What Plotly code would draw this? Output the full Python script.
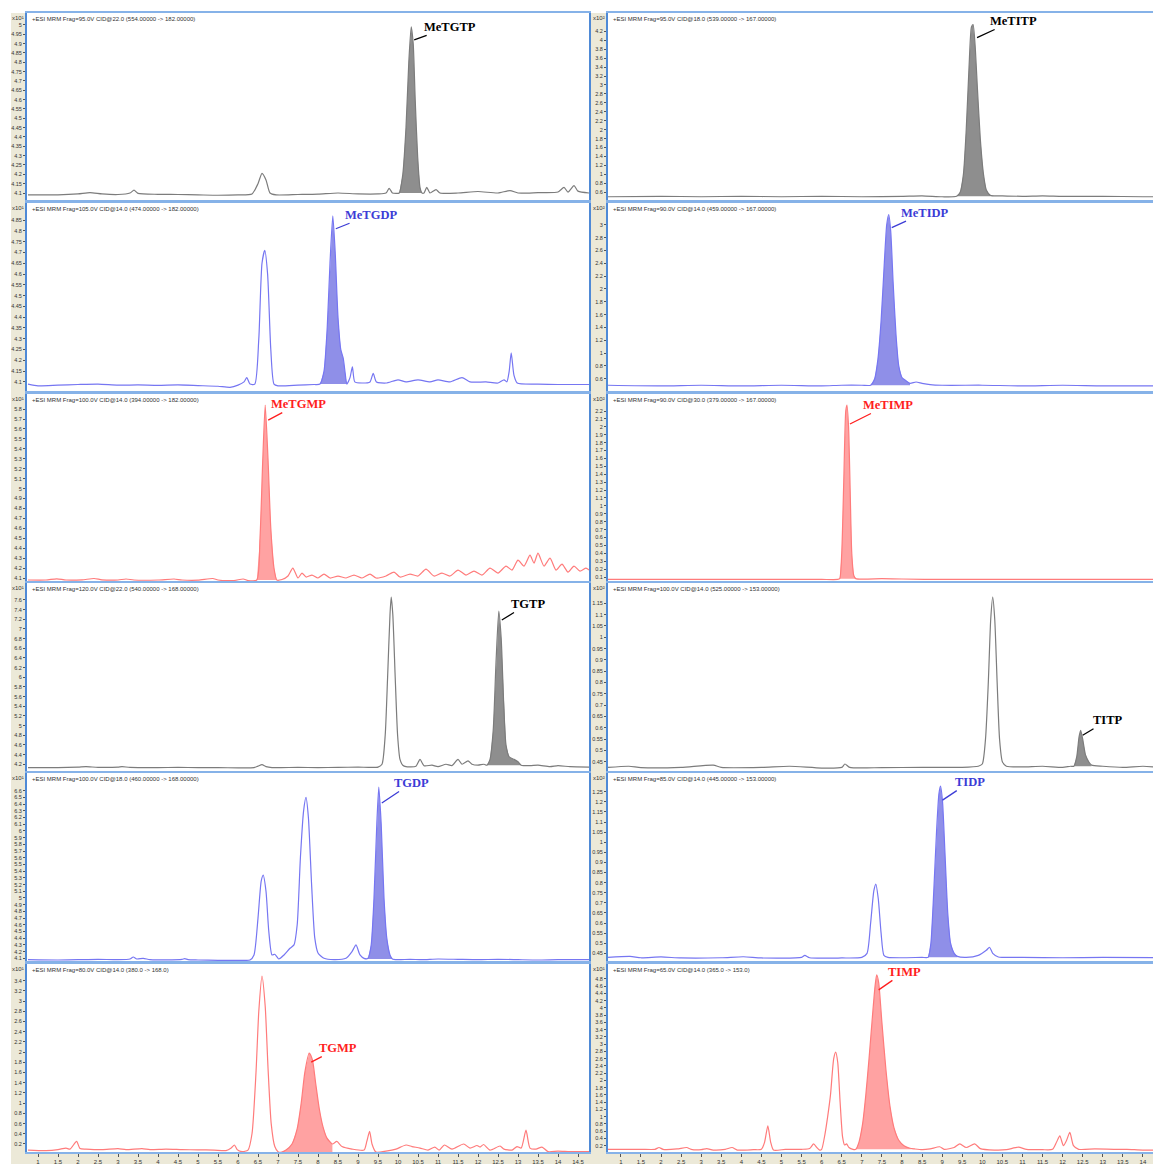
import plotly.graph_objects as go

# ---------------- data: (retention time [min], counts) ----------------
L1 = [(0.75,4.09),(1.5,4.09),(2.0,4.095),(2.3,4.102),(2.6,4.095),(3.0,4.092),(3.3,4.1),(3.4,4.115),(3.5,4.098),
      (4.0,4.093),(4.5,4.092),(5.0,4.09),(5.5,4.088),(6.0,4.09),(6.35,4.095),(6.5,4.15),(6.6,4.205),(6.7,4.17),
      (6.8,4.1),(6.95,4.09),(7.5,4.092),(8.0,4.094),(8.5,4.1),(9.0,4.095),(9.5,4.095),(9.7,4.1),(9.78,4.125),
      (9.86,4.1),(9.95,4.098),(10.03,4.1),(10.12,4.2),(10.2,4.45),(10.27,4.8),(10.33,4.99),(10.38,4.9),(10.43,4.6),
      (10.49,4.3),(10.55,4.13),(10.6,4.1),(10.65,4.1),(10.72,4.13),(10.8,4.1),(10.95,4.118),(11.05,4.1),(11.5,4.1),
      (12.0,4.108),(12.5,4.1),(12.8,4.113),(13.0,4.1),(13.5,4.102),(14.0,4.105),(14.15,4.13),(14.25,4.105),
      (14.4,4.14),(14.5,4.11),(14.78,4.1)]
L1_FILL = (10.03, 10.6)

L2 = [(0.75,4.09),(1.0,4.082),(1.5,4.085),(2.0,4.088),(2.5,4.09),(3.0,4.085),(3.5,4.086),(4.0,4.084),(4.5,4.086),
      (5.0,4.083),(5.5,4.08),(5.8,4.075),(6.0,4.085),(6.15,4.1),(6.22,4.12),(6.3,4.09),(6.42,4.09),(6.52,4.3),
      (6.6,4.65),(6.67,4.71),(6.74,4.6),(6.82,4.25),(6.9,4.09),(7.0,4.082),(7.5,4.085),(7.9,4.088),(8.05,4.09),
      (8.15,4.15),(8.23,4.35),(8.3,4.65),(8.37,4.87),(8.43,4.7),(8.5,4.4),(8.57,4.25),(8.63,4.21),(8.68,4.14),
      (8.72,4.09),(8.8,4.12),(8.86,4.17),(8.92,4.1),(9.1,4.095),(9.3,4.1),(9.38,4.14),(9.46,4.1),(9.7,4.095),
      (10.0,4.11),(10.2,4.1),(10.5,4.11),(10.8,4.1),(11.0,4.11),(11.3,4.1),(11.6,4.12),(11.8,4.1),(12.2,4.1),
      (12.5,4.095),(12.65,4.11),(12.72,4.1),(12.78,4.15),(12.83,4.235),(12.9,4.13),(12.98,4.095),(13.5,4.09),
      (14.0,4.088),(14.78,4.088)]
L2_FILL = (8.05, 8.72)

L3 = [(0.75,4.08),(1.2,4.08),(1.47,4.092),(1.7,4.08),(2.1,4.082),(2.4,4.095),(2.6,4.082),(3.0,4.08),(3.2,4.09),
      (3.4,4.08),(4.0,4.08),(4.4,4.09),(4.6,4.08),(5.0,4.078),(5.37,4.095),(5.5,4.08),(5.9,4.075),(6.13,4.09),
      (6.25,4.075),(6.47,4.08),(6.55,4.5),(6.62,5.3),(6.68,5.84),(6.75,5.3),(6.82,4.6),(6.9,4.2),(6.97,4.08),
      (7.1,4.085),(7.25,4.12),(7.37,4.2),(7.5,4.1),(7.6,4.15),(7.7,4.11),(7.85,4.13),(8.0,4.1),(8.15,4.14),
      (8.3,4.1),(8.5,4.12),(8.7,4.1),(8.9,4.13),(9.1,4.1),(9.3,4.14),(9.45,4.1),(9.7,4.12),(9.9,4.16),(10.05,4.11),
      (10.3,4.14),(10.5,4.12),(10.7,4.19),(10.9,4.12),(11.1,4.15),(11.3,4.12),(11.5,4.18),(11.7,4.13),(11.9,4.17),
      (12.1,4.13),(12.3,4.2),(12.5,4.15),(12.7,4.22),(12.85,4.18),(13.0,4.28),(13.15,4.22),(13.3,4.33),(13.4,4.25),
      (13.5,4.35),(13.65,4.22),(13.8,4.3),(13.95,4.18),(14.1,4.24),(14.25,4.16),(14.4,4.22),(14.55,4.17),
      (14.7,4.2),(14.78,4.18)]
L3_FILL = (6.47, 6.97)

L4 = [(0.75,4.13),(1.5,4.13),(2.0,4.14),(2.2,4.15),(2.5,4.135),(3.0,4.14),(3.1,4.15),(3.3,4.135),(4.0,4.13),
      (4.5,4.135),(5.0,4.13),(5.5,4.13),(6.0,4.125),(6.4,4.13),(6.5,4.16),(6.6,4.19),(6.7,4.15),(6.85,4.13),
      (7.5,4.135),(8.0,4.13),(8.5,4.135),(9.0,4.14),(9.5,4.14),(9.6,4.2),(9.68,4.8),(9.74,6.0),(9.8,7.3),
      (9.83,7.66),(9.87,7.3),(9.93,6.0),(9.99,4.8),(10.05,4.3),(10.12,4.18),(10.2,4.15),(10.45,4.16),(10.55,4.3),
      (10.65,4.17),(10.85,4.18),(11.0,4.15),(11.2,4.2),(11.35,4.17),(11.5,4.3),(11.6,4.2),(11.75,4.27),(11.85,4.2),
      (12.0,4.18),(12.15,4.2),(12.22,4.18),(12.3,4.3),(12.38,4.9),(12.45,6.3),(12.52,7.37),(12.58,6.8),
      (12.64,5.5),(12.7,4.6),(12.78,4.35),(12.9,4.3),(13.0,4.25),(13.08,4.18),(13.3,4.17),(13.5,4.18),
      (13.8,4.15),(14.0,4.17),(14.3,4.15),(14.78,4.14)]
L4_FILL = (12.22, 13.08)

L5 = [(0.75,4.08),(1.5,4.075),(2.0,4.08),(2.5,4.085),(3.0,4.08),(3.3,4.09),(3.38,4.12),(3.47,4.09),(3.63,4.1),
      (3.8,4.08),(4.2,4.078),(4.6,4.085),(4.67,4.095),(4.75,4.08),(5.0,4.075),(5.5,4.07),(6.0,4.07),(6.3,4.075),
      (6.4,4.15),(6.5,4.7),(6.58,5.25),(6.63,5.34),(6.7,5.1),(6.77,4.5),(6.85,4.15),(6.92,4.16),(7.02,4.09),
      (7.15,4.15),(7.3,4.25),(7.4,4.3),(7.48,4.6),(7.56,5.6),(7.64,6.3),(7.7,6.5),(7.76,6.2),(7.84,5.2),
      (7.92,4.4),(8.0,4.18),(8.15,4.1),(8.4,4.08),(8.7,4.1),(8.85,4.2),(8.95,4.3),(9.05,4.15),(9.15,4.1),
      (9.25,4.1),(9.33,4.3),(9.4,5.0),(9.47,6.1),(9.52,6.655),(9.58,6.1),(9.65,5.0),(9.72,4.4),(9.8,4.15),
      (9.86,4.09),(10.0,4.08),(10.3,4.085),(10.6,4.08),(11.0,4.09),(11.5,4.085),(12.0,4.08),(12.5,4.085),
      (13.0,4.08),(13.5,4.075),(14.0,4.08),(14.78,4.08)]
L5_FILL = (9.25, 9.86)

L6 = [(0.75,0.08),(1.2,0.07),(1.5,0.09),(1.7,0.12),(1.8,0.1),(1.965,0.25),(2.05,0.11),(2.2,0.1),(2.6,0.09),
      (3.0,0.11),(3.2,0.09),(3.6,0.11),(3.8,0.09),(4.2,0.1),(4.6,0.09),(5.0,0.085),(5.4,0.08),(5.7,0.07),
      (5.83,0.12),(5.91,0.18),(5.98,0.09),(6.1,0.05),(6.25,0.08),(6.35,0.4),(6.45,1.6),(6.52,2.8),(6.6,3.49),
      (6.68,2.9),(6.75,1.7),(6.83,0.6),(6.92,0.15),(7.0,0.05),(7.09,0.04),(7.2,0.08),(7.35,0.2),(7.48,0.5),
      (7.58,1.0),(7.67,1.6),(7.78,1.98),(7.86,1.85),(7.94,1.4),(8.03,0.9),(8.12,0.55),(8.22,0.32),(8.36,0.2),
      (8.47,0.25),(8.6,0.15),(8.85,0.1),(9.15,0.08),(9.22,0.25),(9.29,0.45),(9.35,0.2),(9.45,0.04),(9.7,0.06),
      (9.95,0.1),(10.2,0.18),(10.35,0.15),(10.55,0.12),(10.75,0.08),(10.92,0.14),(11.03,0.08),(11.16,0.18),
      (11.35,0.1),(11.64,0.2),(11.8,0.12),(11.975,0.17),(12.05,0.14),(12.14,0.19),(12.3,0.08),(12.55,0.16),
      (12.65,0.1),(12.85,0.08),(12.975,0.15),(13.08,0.12),(13.2,0.47),(13.3,0.12),(13.45,0.1),(13.6,0.14),
      (13.75,0.05),(14.0,0.06),(14.3,0.05),(14.78,0.05)]
L6_FILL = (7.09, 8.36)

R1 = [(0.68,0.5),(2.0,0.51),(3.0,0.5),(4.0,0.51),(5.0,0.5),(6.0,0.51),(7.0,0.5),(8.0,0.51),(8.5,0.52),(9.0,0.5),
      (9.36,0.51),(9.45,0.6),(9.53,1.0),(9.6,2.0),(9.67,3.4),(9.73,4.3),(9.77,4.35),(9.82,3.9),(9.88,2.9),
      (9.95,1.8),(10.03,1.0),(10.1,0.65),(10.2,0.53),(10.5,0.52),(11.0,0.51),(11.5,0.52),(12.0,0.51),
      (13.0,0.51),(14.0,0.5),(14.45,0.5)]
R1_FILL = (9.36, 10.2)

R2 = [(0.68,0.5),(2.0,0.49),(3.0,0.5),(4.0,0.49),(5.0,0.5),(6.0,0.49),(6.5,0.5),(7.0,0.5),(7.22,0.5),(7.32,0.6),
      (7.4,0.9),(7.48,1.5),(7.56,2.4),(7.62,3.0),(7.67,3.16),(7.72,2.9),(7.78,2.1),(7.85,1.3),(7.92,0.8),
      (8.0,0.62),(8.1,0.57),(8.2,0.53),(8.35,0.55),(8.5,0.53),(8.7,0.51),(9.0,0.5),(10.0,0.5),(11.0,0.49),
      (12.0,0.5),(13.0,0.49),(14.45,0.49)]
R2_FILL = (7.22, 8.2)

R3 = [(0.68,0.07),(3.0,0.07),(5.0,0.07),(6.0,0.07),(6.4,0.07),(6.45,0.08),(6.5,0.4),(6.55,1.3),(6.6,2.2),
      (6.63,2.276),(6.67,2.0),(6.71,1.2),(6.75,0.4),(6.8,0.12),(6.85,0.08),(7.5,0.08),(8.0,0.075),(9.0,0.07),
      (14.45,0.07)]
R3_FILL = (6.45, 6.85)

R4 = [(0.68,0.425),(1.2,0.43),(1.5,0.424),(2.5,0.425),(3.3,0.435),(3.5,0.425),(4.5,0.425),(5.2,0.43),(6.0,0.422),
      (6.5,0.425),(6.58,0.44),(6.7,0.425),(7.5,0.424),(8.5,0.425),(9.5,0.425),(9.9,0.43),(10.0,0.44),
      (10.08,0.55),(10.15,0.8),(10.21,1.08),(10.26,1.178),(10.31,1.08),(10.37,0.8),(10.43,0.55),(10.5,0.45),
      (10.6,0.43),(11.0,0.427),(11.5,0.43),(12.0,0.425),(12.2,0.43),(12.28,0.43),(12.35,0.47),(12.41,0.56),
      (12.45,0.589),(12.5,0.55),(12.57,0.48),(12.65,0.45),(12.72,0.435),(13.0,0.43),(13.5,0.425),(14.0,0.43),
      (14.45,0.425)]
R4_FILL = (12.28, 12.72)

R5 = [(0.68,0.43),(1.23,0.435),(1.5,0.428),(2.0,0.432),(2.5,0.427),(3.5,0.428),(4.05,0.433),(4.5,0.427),
      (5.5,0.43),(5.58,0.44),(5.7,0.428),(6.5,0.427),(7.0,0.43),(7.13,0.45),(7.22,0.6),(7.3,0.76),(7.35,0.793),
      (7.41,0.72),(7.48,0.55),(7.55,0.44),(7.65,0.43),(8.0,0.428),(8.5,0.43),(8.65,0.43),(8.72,0.5),(8.79,0.75),
      (8.86,1.05),(8.92,1.24),(8.96,1.278),(9.01,1.2),(9.07,0.95),(9.14,0.65),(9.21,0.5),(9.3,0.45),(9.38,0.435),
      (9.6,0.43),(9.9,0.44),(10.1,0.465),(10.18,0.48),(10.26,0.45),(10.4,0.432),(11.0,0.43),(12.0,0.428),
      (13.0,0.43),(14.45,0.428)]
R5_FILL = (8.65, 9.38)

R6 = [(0.68,0.1),(1.5,0.1),(1.85,0.1),(1.95,0.15),(2.05,0.1),(2.4,0.11),(2.64,0.15),(2.75,0.1),(3.0,0.09),
      (3.14,0.12),(3.3,0.08),(3.6,0.1),(3.77,0.15),(3.9,0.08),(4.3,0.09),(4.5,0.1),(4.58,0.3),(4.66,0.75),
      (4.73,0.3),(4.8,0.08),(5.1,0.1),(5.5,0.1),(5.7,0.12),(5.8,0.25),(5.88,0.15),(5.95,0.08),(6.0,0.1),
      (6.08,0.5),(6.15,1.0),(6.22,1.6),(6.3,2.6),(6.35,2.78),(6.4,2.5),(6.46,1.4),(6.52,0.45),(6.57,0.22),
      (6.62,0.25),(6.68,0.15),(6.78,0.1),(6.85,0.1),(6.93,0.3),(7.02,0.8),(7.1,1.6),(7.18,2.6),(7.26,3.7),
      (7.33,4.6),(7.37,4.91),(7.42,4.7),(7.5,3.6),(7.6,2.3),(7.7,1.3),(7.8,0.7),(7.92,0.35),(8.05,0.2),
      (8.2,0.13),(8.32,0.11),(8.5,0.09),(8.7,0.11),(8.94,0.17),(9.05,0.1),(9.3,0.15),(9.44,0.25),(9.6,0.15),
      (9.81,0.25),(9.95,0.12),(10.3,0.08),(10.6,0.09),(10.9,0.16),(11.1,0.1),(11.5,0.09),(11.75,0.1),
      (11.85,0.3),(11.93,0.47),(12.02,0.2),(12.1,0.35),(12.18,0.57),(12.27,0.2),(12.4,0.1),(12.8,0.11),
      (13.3,0.1),(13.6,0.1),(14.0,0.08),(14.45,0.08)]
R6_FILL = (6.85, 8.32)

# y tick labels of each panel
L1_TICKS = [4.1,4.15,4.2,4.25,4.3,4.35,4.4,4.45,4.5,4.55,4.6,4.65,4.7,4.75,4.8,4.85,4.9,4.95,5]
L2_TICKS = [4.1,4.15,4.2,4.25,4.3,4.35,4.4,4.45,4.5,4.55,4.6,4.65,4.7,4.75,4.8,4.85]
L3_TICKS = [4.1,4.2,4.3,4.4,4.5,4.6,4.7,4.8,4.9,5,5.1,5.2,5.3,5.4,5.5,5.6,5.7,5.8]
L4_TICKS = [4.2,4.4,4.6,4.8,5,5.2,5.4,5.6,5.8,6,6.2,6.4,6.6,6.8,7,7.2,7.4,7.6]
L5_TICKS = [4.1,4.2,4.3,4.4,4.5,4.6,4.7,4.8,4.9,5,5.1,5.2,5.3,5.4,5.5,5.6,5.7,5.8,5.9,6,6.1,6.2,6.3,6.4,6.5,6.6]
L6_TICKS = [0.2,0.4,0.6,0.8,1,1.2,1.4,1.6,1.8,2,2.2,2.4,2.6,2.8,3,3.2,3.4]
R1_TICKS = [0.6,0.8,1,1.2,1.4,1.6,1.8,2,2.2,2.4,2.6,2.8,3,3.2,3.4,3.6,3.8,4,4.2]
R2_TICKS = [0.6,0.8,1,1.2,1.4,1.6,1.8,2,2.2,2.4,2.6,2.8,3]
R3_TICKS = [0.1,0.2,0.3,0.4,0.5,0.6,0.7,0.8,0.9,1,1.1,1.2,1.3,1.4,1.5,1.6,1.7,1.8,1.9,2,2.1,2.2]
R4_TICKS = [0.45,0.5,0.55,0.6,0.65,0.7,0.75,0.8,0.85,0.9,0.95,1,1.05,1.1,1.15]
R5_TICKS = [0.45,0.5,0.55,0.6,0.65,0.7,0.75,0.8,0.85,0.9,0.95,1,1.05,1.1,1.15,1.2,1.25]
R6_TICKS = [0.2,0.4,0.6,0.8,1,1.2,1.4,1.6,1.8,2,2.2,2.4,2.6,2.8,3,3.2,3.4,3.6,3.8,4,4.2,4.4,4.6,4.8]

TIME_TICKS = [1,1.5,2,2.5,3,3.5,4,4.5,5,5.5,6,6.5,7,7.5,8,8.5,9,9.5,10,10.5,11,11.5,12,12.5,13,13.5,14,14.5]

HEADERS = {
    'L1': '+ESI MRM Frag=95.0V CID@22.0 (554.00000 -> 182.00000)',
    'L2': '+ESI MRM Frag=105.0V CID@14.0 (474.00000 -> 182.00000)',
    'L3': '+ESI MRM Frag=100.0V CID@14.0 (394.00000 -> 182.00000)',
    'L4': '+ESI MRM Frag=120.0V CID@22.0 (540.00000 -> 168.00000)',
    'L5': '+ESI MRM Frag=100.0V CID@18.0 (460.00000 -> 168.00000)',
    'L6': '+ESI MRM Frag=80.0V CID@14.0 (380.0 -> 168.0)',
    'R1': '+ESI MRM Frag=95.0V CID@18.0 (539.00000 -> 167.00000)',
    'R2': '+ESI MRM Frag=90.0V CID@14.0 (459.00000 -> 167.00000)',
    'R3': '+ESI MRM Frag=90.0V CID@30.0 (379.00000 -> 167.00000)',
    'R4': '+ESI MRM Frag=100.0V CID@14.0 (525.00000 -> 153.00000)',
    'R5': '+ESI MRM Frag=85.0V CID@14.0 (445.00000 -> 153.00000)',
    'R6': '+ESI MRM Frag=65.0V CID@14.0 (365.0 -> 153.0)',
}
EXPONENT = {'L1':'¹','L2':'¹','L3':'¹','L4':'¹','L5':'¹','L6':'¹',
            'R1':'²','R2':'²','R3':'²','R4':'²','R5':'²','R6':'¹'}
LABELS = {'L1':'MeTGTP','L2':'MeTGDP','L3':'MeTGMP','L4':'TGTP','L5':'TGDP','L6':'TGMP',
          'R1':'MeTITP','R2':'MeTIDP','R3':'MeTIMP','R4':'TITP','R5':'TIDP','R6':'TIMP'}

# ---------------- layout / style ----------------
# the page body has an 8 px margin: the figure is sized to fill the rest of the window
OFF = 8
W, H = 1161 - OFF, 1164 - OFF
ROW_TOP = [13, 203, 394, 583, 773, 964]
ROW_BOT = [200, 391, 581, 771, 961, 1152]
COL_X = [(27, 589), (608, 1161)]
XRANGE = [[0.725, 14.775], [0.68, 14.45]]

STYLE = {
    'gray': dict(line='#7c7c7c', fill='#8e8e8e', text='#000000'),
    'blue': dict(line='#7676f2', fill='#8f8fe8', text='#3c3cd6'),
    'red':  dict(line='#ff7b7b', fill='#ffa2a2', text='#ff1e1e'),
}
PANELS = [
    ('L1', L1, L1_FILL, L1_TICKS, [4.0625, 5.064], 'gray', (3, 13, 36, -13)),
    ('L2', L2, L2_FILL, L2_TICKS, [4.058, 4.929], 'blue', (3, 13, 35, -14)),
    ('L3', L3, L3_FILL, L3_TICKS, [4.07, 5.952], 'red', (3, 15, 30, -16)),
    ('L4', L4, L4_FILL, L4_TICKS, [4.06, 7.95], 'gray', (3, 9, 26, -16)),
    ('L5', L5, L5_FILL, L5_TICKS, [4.06, 6.864], 'blue', (3, 16, 30, -20)),
    ('L6', L6, L6_FILL, L6_TICKS, [0.043, 3.727], 'red', (2, 9, 27, -14)),
    ('R1', R1, R1_FILL, R1_TICKS, [0.427, 4.61], 'gray', (4, 13, 36, -17)),
    ('R2', R2, R2_FILL, R2_TICKS, [0.41, 3.34], 'blue', (3, 13, 33, -15)),
    ('R3', R3, R3_FILL, R3_TICKS, [0.05, 2.415], 'red', (3, 19, 38, -19)),
    ('R4', R4, R4_FILL, R4_TICKS, [0.409, 1.24], 'gray', (2, 5, 25, -15)),
    ('R5', R5, R5_FILL, R5_TICKS, [0.412, 1.343], 'blue', (2, 14, 27, -18)),
    ('R6', R6, R6_FILL, R6_TICKS, [0.026, 5.21], 'red', (2, 15, 26, -18)),
]

BEIGE = '#ece9d8'
AXIS_BLUE = '#4f8ad6'
FRAME_BLUE = '#86b2e8'
SMALL = dict(family='Liberation Sans, Arial', size=6, color='#333333')

fig = go.Figure()
layout = dict(width=W, height=H, margin=dict(l=0, r=0, t=0, b=0),
              paper_bgcolor='white', plot_bgcolor='white', showlegend=False)
shapes = []
annotations = []

def px(xp):
    return max(0.0, min(1.0, (xp - OFF) / W))

def py(yp):
    return max(0.0, min(1.0, 1 - (yp - OFF) / H))

# beige strips (y-axis gutters and bottom time-axis strip)
shapes.append(dict(type='rect', xref='paper', yref='paper', x0=px(11), x1=px(COL_X[0][0]),
                   y0=0, y1=py(ROW_TOP[0]), fillcolor=BEIGE, line=dict(width=0), layer='below'))
shapes.append(dict(type='rect', xref='paper', yref='paper', x0=px(590), x1=px(COL_X[1][0]),
                   y0=0, y1=py(ROW_TOP[0]), fillcolor=BEIGE, line=dict(width=0), layer='below'))
shapes.append(dict(type='rect', xref='paper', yref='paper', x0=px(11), x1=1,
                   y0=0, y1=py(ROW_BOT[-1]), fillcolor=BEIGE, line=dict(width=0), layer='below'))

for i, (key, data, frange, ticks, yr, color, off) in enumerate(PANELS):
    col = 0 if key[0] == 'L' else 1
    row = int(key[1]) - 1
    n = i + 1
    xa = 'x' if n == 1 else f'x{n}'
    ya = 'y' if n == 1 else f'y{n}'
    st = STYLE[color]
    ts = [p[0] for p in data]
    ys = [p[1] for p in data]

    # filled integrated peak
    seg = [(t, y) for t, y in data if frange[0] <= t <= frange[1]]
    base = min(seg[0][1], seg[-1][1])
    fx = [t for t, _ in seg] + [seg[-1][0], seg[0][0]]
    fy = [y for _, y in seg] + [base, base]
    fig.add_trace(go.Scatter(x=fx, y=fy, xaxis=xa, yaxis=ya, mode='lines', fill='toself',
                             fillcolor=st['fill'], line=dict(width=0, color=st['fill']),
                             hoverinfo='skip'))
    # chromatogram trace
    fig.add_trace(go.Scatter(x=ts, y=ys, xaxis=xa, yaxis=ya, mode='lines',
                             line=dict(color=st['line'], width=1.2, shape='spline', smoothing=0.6),
                             hoverinfo='skip'))

    bottom = row == 5
    xdict = dict(domain=[px(COL_X[col][0]), px(COL_X[col][1])], range=XRANGE[col],
                 anchor=ya, showgrid=False, zeroline=False,
                 showline=True, linecolor=FRAME_BLUE, linewidth=1.5, mirror=True,
                 fixedrange=True)
    if bottom:
        xdict.update(tickmode='array', tickvals=TIME_TICKS, ticktext=[f'{v:g}' for v in TIME_TICKS],
                     ticks='outside', ticklen=3, tickcolor='#555555', tickwidth=1, tickfont=SMALL)
    else:
        xdict.update(showticklabels=False, ticks='')
    ydict = dict(domain=[py(ROW_BOT[row]), py(ROW_TOP[row])], range=yr, anchor=xa,
                 showgrid=False, zeroline=False, showline=True, linecolor=AXIS_BLUE, linewidth=2,
                 mirror=(col == 0), tickmode='array', tickvals=ticks,
                 ticktext=[f'{v:g}' for v in ticks], ticks='outside', ticklen=2,
                 tickcolor='#555555', tickwidth=1,
                 tickfont=dict(family='Liberation Sans, Arial', size=5.5, color='#333333'),
                 fixedrange=True)
    layout['xaxis' if n == 1 else f'xaxis{n}'] = xdict
    layout['yaxis' if n == 1 else f'yaxis{n}'] = ydict

    x_left = COL_X[col][0]
    # header line of the MRM transition
    annotations.append(dict(xref='paper', yref='paper', x=px(x_left + 3), y=py(ROW_TOP[row] + 1),
                            xanchor='left', yanchor='top', showarrow=False, text=HEADERS[key],
                            font=SMALL))
    # exponent marker
    annotations.append(dict(xref='paper', yref='paper', x=px(x_left - 1), y=py(ROW_TOP[row]),
                            xanchor='right', yanchor='top', showarrow=False,
                            text='x10' + EXPONENT[key], font=SMALL))
    # compound label with leader line to the peak apex
    apex = max(seg, key=lambda p: p[1])
    dxh, dyh, axo, ayo = off
    annotations.append(dict(xref=xa, yref=ya, x=apex[0], y=apex[1], xshift=dxh, yshift=-dyh,
                            text=f'<b>{LABELS[key]}</b>', showarrow=True, arrowhead=0,
                            arrowwidth=1.3, arrowcolor=st['text'], ax=axo, ay=ayo, standoff=0,
                            font=dict(family='Liberation Serif, Times New Roman', size=12.5,
                                      color=st['text'])))

layout['shapes'] = shapes
layout['annotations'] = annotations
fig.update_layout(**layout)
fig.write_html('out.html')
